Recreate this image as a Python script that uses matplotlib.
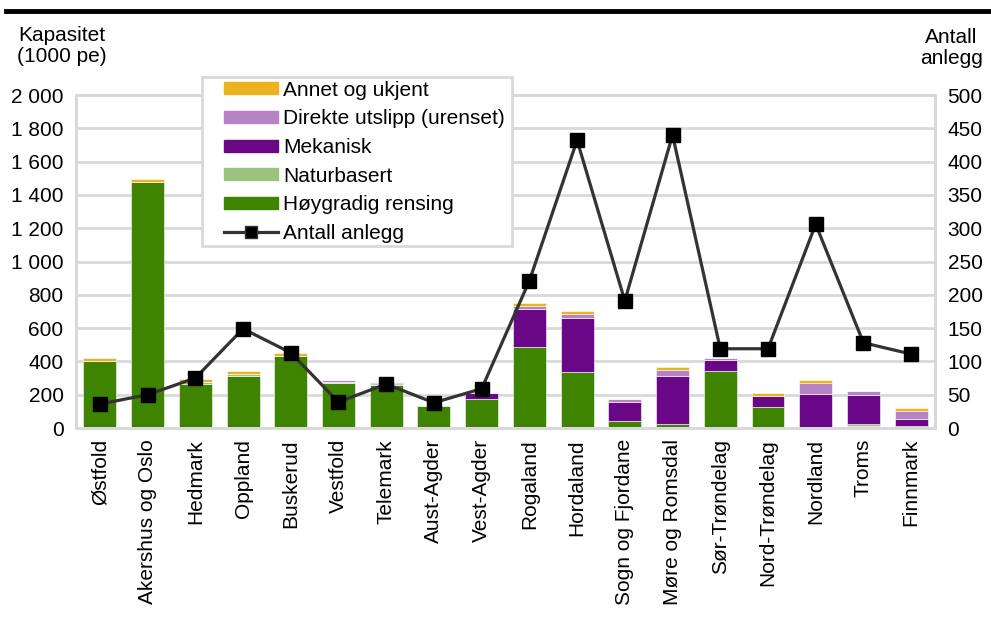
import matplotlib.pyplot as plt
import numpy as np
from matplotlib.lines import Line2D
from matplotlib.patches import Patch, Rectangle

plt.rcParams['font.family'] = ['Liberation Sans', 'DejaVu Sans']

fylker = ["Østfold", "Akershus og Oslo", "Hedmark", "Oppland", "Buskerud", "Vestfold",
          "Telemark", "Aust-Agder", "Vest-Agder", "Rogaland", "Hordaland", "Sogn og Fjordane",
          "Møre og Romsdal", "Sør-Trøndelag", "Nord-Trøndelag", "Nordland", "Troms", "Finnmark"]

hoygradig = [405, 1478, 265, 315, 435, 270, 260, 135, 175, 485, 335, 40, 25, 340, 126, 4, 15, 12]
naturbasert = [0, 0, 12, 12, 0, 4, 5, 4, 0, 0, 0, 0, 0, 0, 0, 2, 8, 0]
mekanisk = [0, 0, 0, 0, 0, 0, 8, 0, 33, 230, 328, 118, 285, 66, 66, 200, 176, 42]
direkte = [0, 0, 0, 0, 0, 14, 2, 0, 0, 20, 24, 18, 38, 16, 0, 66, 24, 48]
annet = [16, 16, 16, 17, 18, 0, 0, 0, 0, 15, 14, 0, 16, 0, 16, 16, 0, 16]

antall_anlegg = [36, 50, 75, 149, 113, 39, 66, 38, 59, 221, 432, 191, 440, 119, 119, 306, 128, 111]

series = [
    ("Høygradig rensing", hoygradig, "#3f8400"),
    ("Naturbasert", naturbasert, "#9cc37e"),
    ("Mekanisk", mekanisk, "#6a0787"),
    ("Direkte utslipp (urenset)", direkte, "#b484c4"),
    ("Annet og ukjent", annet, "#ecb21f"),
]

fs = 15

fig = plt.figure(figsize=(9.91, 6.17), dpi=100)
ax = fig.add_axes([0.0767, 0.3063, 0.8668, 0.5397])
ax2 = ax.twinx()

x = np.arange(len(fylker))
bottom = np.zeros(len(fylker))
for name, vals, col in series:
    ax.bar(x, vals, bottom=bottom, width=0.69, color=col, edgecolor="#ffffff",
           linewidth=0.4, zorder=2)
    bottom += np.array(vals)

ax2.plot(x, antall_anlegg, color="#333333", linewidth=2.3, marker="s", markersize=10,
         markerfacecolor="black", markeredgecolor="black", zorder=5)

ax.set_xlim(-0.5, len(fylker) - 0.5)
ax.set_ylim(0, 2000)
ax2.set_ylim(0, 500)
ax.set_yticks(range(0, 2001, 200))
ax.set_yticklabels([f"{v:,}".replace(",", " ") for v in range(0, 2001, 200)], fontsize=fs)
ax2.set_yticks(range(0, 501, 50))
ax2.set_yticklabels([str(v) for v in range(0, 501, 50)], fontsize=fs)
ax.set_xticks(x)
ax.set_xticklabels(fylker, rotation=90, fontsize=fs)
ax.tick_params(axis="y", length=0, pad=9)
ax2.tick_params(axis="y", length=0, pad=9)
ax.tick_params(axis="x", length=0, pad=8)

ax.grid(axis="y", color="#d9d9d9", linewidth=2, zorder=0)
ax.set_axisbelow(True)
for a in (ax, ax2):
    for s in a.spines.values():
        s.set_color("#d9d9d9")
        s.set_linewidth(2)

fig.text(0.062, 0.925, "Kapasitet\n(1000 pe)", ha="center", va="center", fontsize=fs,
         linespacing=1.15)
fig.text(0.96, 0.922, "Antall\nanlegg", ha="center", va="center", fontsize=fs,
         linespacing=1.15)

# legend box drawn by hand so the padding matches
box = Rectangle((202 / 991, 1 - 246 / 617), 310 / 991, 169 / 617, transform=fig.transFigure,
                facecolor="white", edgecolor="#d9d9d9", linewidth=2, zorder=9)
fig.add_artist(box)

handles = [Patch(color=c, label=n) for n, _, c in series[::-1]]
handles.append(Line2D([0], [0], color="#333333", linewidth=2.3, marker="s", markersize=8,
                      markerfacecolor="black", label="Antall anlegg"))
leg = fig.legend(handles=handles, loc="upper left", bbox_to_anchor=(0.226, 0.869),
                 bbox_transform=fig.transFigure, fontsize=fs, frameon=False,
                 handlelength=2.6, handleheight=0.5, labelspacing=0.46, borderpad=0,
                 handletextpad=0.25, borderaxespad=0)
leg.set_zorder(10)

fig.add_artist(Line2D([0.006, 1.0], [0.982, 0.982], color="black", linewidth=3.5))

fig.savefig("out.png", dpi=100)
